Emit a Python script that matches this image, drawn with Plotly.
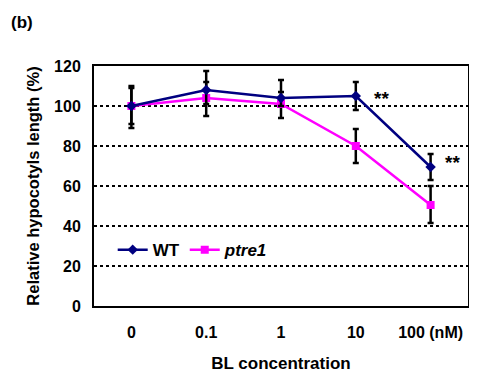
import plotly.graph_objects as go

categories = ["0", "0.1", "1", "10", "100 (nM)"]
wt_values = [100, 108, 104, 105, 69.5]
wt_err_plus = [10, 9.5, 9, 7, 6.5]
wt_err_minus = [11, 7, 4, 7, 6.5]
ptre1_values = [100, 104, 101, 80, 50.5]
ptre1_err_plus = [9, 8, 6, 8.5, 9.5]
ptre1_err_minus = [9, 9, 7, 8.5, 9]
y_ticks = [0, 20, 40, 60, 80, 100, 120]

FONT = "Arial, Liberation Sans, sans-serif"
ML, MT = 86, 58

fig = go.Figure()
fig.add_trace(go.Scatter(
    x=categories, y=ptre1_values, name="<b><i>ptre1</i></b>", mode="lines+markers",
    line=dict(color="#FF00FF", width=2.5),
    marker=dict(symbol="square", size=8, color="#FF00FF"),
    error_y=dict(type="data", symmetric=False, array=ptre1_err_plus,
                 arrayminus=ptre1_err_minus, color="black", thickness=2.5, width=3),
))
fig.add_trace(go.Scatter(
    x=categories, y=wt_values, name="<b>WT</b>", mode="lines+markers",
    line=dict(color="#000080", width=2.5),
    marker=dict(symbol="diamond", size=8, color="#000080"),
    error_y=dict(type="data", symmetric=False, array=wt_err_plus,
                 arrayminus=wt_err_minus, color="black", thickness=2.5, width=3),
))

# significance marks next to WT points at index 3 and 4
for idx, dx, dy in [(3, 26, -2), (4, 22, 5)]:
    fig.add_annotation(x=idx, y=wt_values[idx], text="<b>**</b>", showarrow=False,
                       xshift=dx, yshift=dy, font=dict(family=FONT, size=19, color="black"))

fig.add_annotation(x=0, y=1, xref="paper", yref="paper", xanchor="left", yanchor="top",
                   text="<b>(b)</b>", showarrow=False, xshift=-ML + 1, yshift=MT - 3,
                   font=dict(family=FONT, size=17, color="black"))

fig.update_layout(
    width=469, height=366,
    margin=dict(l=ML, r=9, t=MT, b=68),
    paper_bgcolor="white", plot_bgcolor="white",
    font=dict(family=FONT, color="black"),
    showlegend=True,
    legend=dict(orientation="h", x=0.05, y=0.233, xanchor="left", yanchor="middle",
                traceorder="reversed", bgcolor="rgba(0,0,0,0)",
                font=dict(family=FONT, size=17, color="black"),
                itemwidth=30, tracegroupgap=0),
    xaxis=dict(
        type="category", categoryorder="array", categoryarray=categories,
        range=[-0.5, 4.5], tickangle=0, automargin=False,
        showgrid=False, zeroline=False,
        showline=True, linecolor="black", linewidth=2, mirror=True,
        ticks="", ticklabelstandoff=11,
        tickfont=dict(family=FONT, size=16, color="black", weight="bold"),
        title=dict(text="<b>BL concentration</b>", standoff=17,
                   font=dict(family=FONT, size=17, color="black")),
    ),
    yaxis=dict(
        range=[0, 120], tickvals=y_ticks, ticktext=[str(v) for v in y_ticks],
        automargin=False,
        showgrid=True, gridcolor="black", gridwidth=2, griddash="dot",
        zeroline=False,
        showline=True, linecolor="black", linewidth=2, mirror=True,
        ticks="", ticklabelstandoff=8,
        tickfont=dict(family=FONT, size=16, color="black", weight="bold"),
        title=dict(text="<b>Relative hypocotyls length (%)</b>", standoff=10,
                   font=dict(family=FONT, size=16.5, color="black")),
    ),
)

fig.write_html("out.html")
